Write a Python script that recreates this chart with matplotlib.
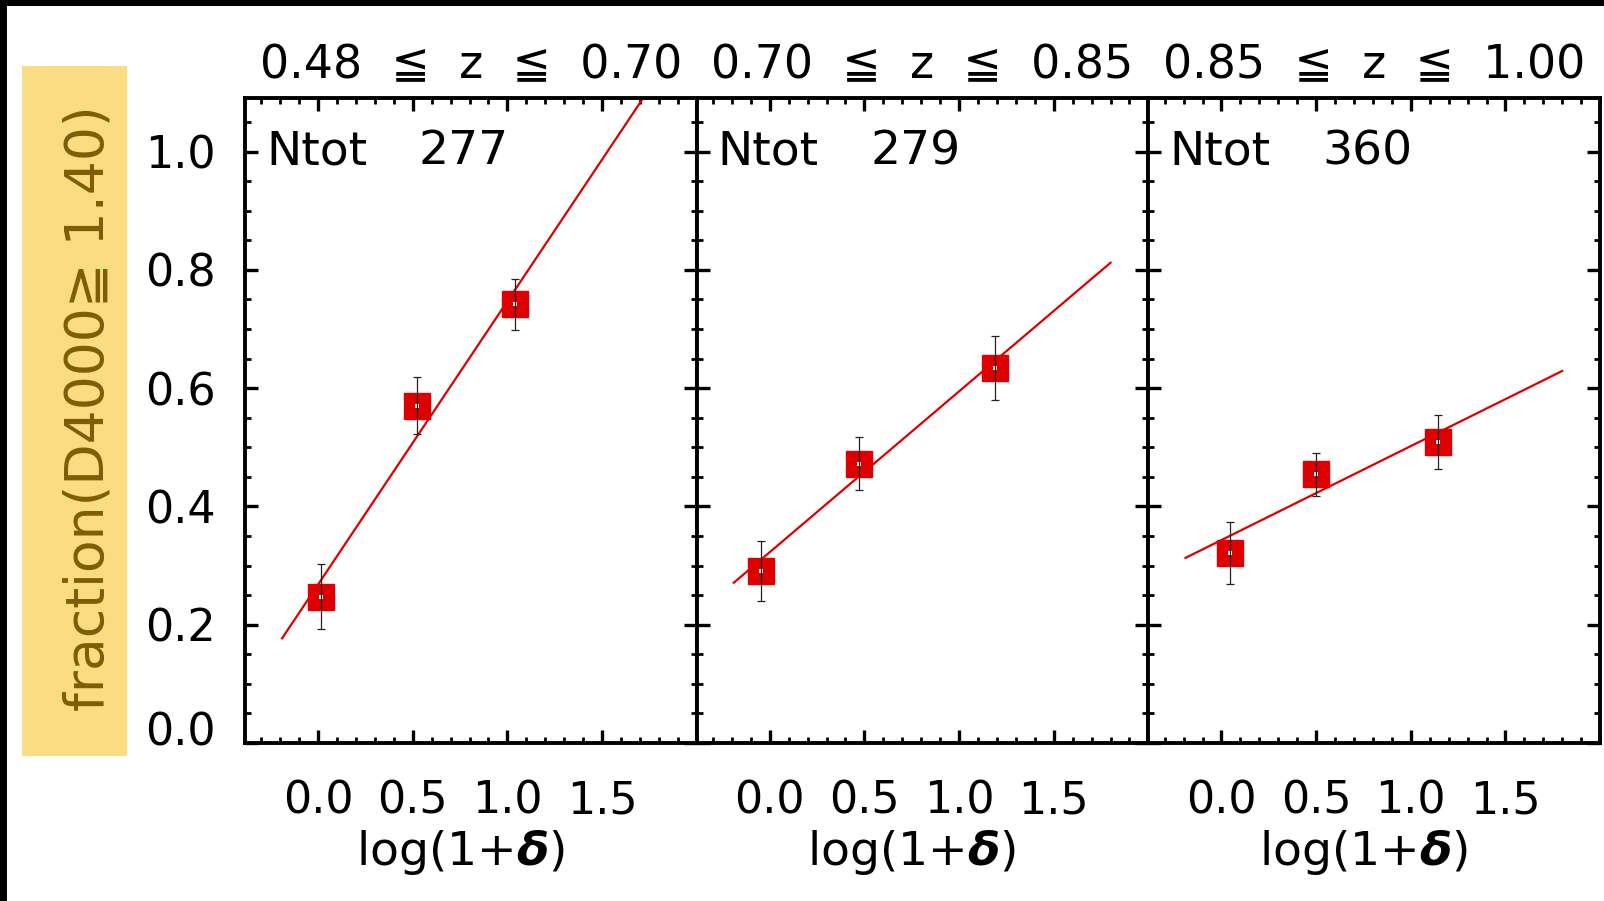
import matplotlib
matplotlib.use('Agg')
from matplotlib import pyplot as plt
from matplotlib.patches import Rectangle
from matplotlib.ticker import MultipleLocator
from matplotlib.transforms import ScaledTranslation

plt.rcParams['font.family'] = ['DejaVu Sans']

# values
z_titles = ['0.48  ≦  z  ≦  0.70', '0.70  ≦  z  ≦  0.85', '0.85  ≦  z  ≦  1.00']
ntot = [277, 279, 360]
log_delta = [[0.016, 0.525, 1.039], [-0.044, 0.472, 1.189], [0.046, 0.500, 1.145]]
fraction = [[0.247, 0.570, 0.742], [0.291, 0.472, 0.634], [0.321, 0.454, 0.509]]
fraction_err = [[0.055, 0.048, 0.043], [0.051, 0.045, 0.054], [0.052, 0.037, 0.046]]
fit_x = [-0.19, 1.80]
fit_y = [[0.177, 1.130], [0.271, 0.812], [0.313, 0.629]]
x_ticks = [0.0, 0.5, 1.0, 1.5]
y_ticks = [0.0, 0.2, 0.4, 0.6, 0.8, 1.0]

W, H = 1604, 901
RED = '#de0000'

fig = plt.figure(figsize=(W / 100, H / 100), dpi=100)
fig.patch.set_facecolor('white')

# yellow box behind the y label, black strips at the edges
fig.add_artist(Rectangle((22 / W, 1 - 756 / H), 105 / W, 690 / H, transform=fig.transFigure,
                         facecolor='#fadc82', edgecolor='none', zorder=0))
fig.add_artist(Rectangle((0, 1 - 6 / H), 1, 6 / H, transform=fig.transFigure,
                         facecolor='black', edgecolor='none'))
fig.add_artist(Rectangle((0, 0), 7 / W, 1, transform=fig.transFigure,
                         facecolor='black', edgecolor='none'))
fig.text(89 / W, 1 - 408 / H, 'fraction(D4000≧ 1.40)', rotation=90, ha='center', va='center',
         fontsize=38.5, color='#7b5e05')

panel_w = 451.7
for i in range(3):
    ax = fig.add_axes([(245 + i * panel_w) / W, 1 - 743 / H, panel_w / W, 645 / H])
    ax.set_xlim(-0.386, 2.0)
    ax.set_ylim(0, 1.0905)

    ax.plot(fit_x, fit_y[i], color=RED, lw=1.6, zorder=2)
    ax.plot(log_delta[i], fraction[i], 's', color=RED, ms=19, mec=RED, zorder=3)
    ax.plot(log_delta[i], fraction[i], 's', color='white', ms=2.5, mew=0, zorder=4)
    ax.errorbar(log_delta[i], fraction[i], yerr=fraction_err[i], fmt='none', ecolor='#222222',
                elinewidth=0.9, capsize=3, capthick=0.9, zorder=5)

    ax.set_xticks(x_ticks)
    ax.set_xticklabels(['%.1f' % v for v in x_ticks])
    ax.set_yticks(y_ticks)
    ax.set_yticklabels(['%.1f' % v for v in y_ticks])
    ax.xaxis.set_minor_locator(MultipleLocator(0.1))
    ax.yaxis.set_minor_locator(MultipleLocator(0.05))
    ax.tick_params(which='both', direction='in', top=True, right=True, color='black')
    ax.tick_params(which='major', length=9.5, width=2.4)
    ax.tick_params(which='minor', length=4.5, width=2.0)
    ax.tick_params(axis='x', which='major', pad=26, labelsize=32)
    ax.tick_params(axis='y', which='major', pad=21, labelsize=32, labelleft=(i == 0))
    for sp in ax.spines.values():
        sp.set_linewidth(2.8)
    if i == 0:
        # the 0.0 label sits a little above its tick
        lab = ax.get_yticklabels()[0]
        lab.set_transform(lab.get_transform() + ScaledTranslation(0, 0.14, fig.dpi_scale_trans))

    ax.text(0.5, 1.031, z_titles[i], transform=ax.transAxes, ha='center', va='baseline',
            fontsize=33)
    ax.text(0.0465, 0.897, 'Ntot', transform=ax.transAxes, ha='left', va='baseline', fontsize=34)
    ax.text(0.385, 0.897, str(ntot[i]), transform=ax.transAxes, ha='left', va='baseline',
            fontsize=34)
    ax.text(0.75, -0.169, r'log(1+$\boldsymbol{\delta}$)', transform=ax.get_xaxis_transform(),
            ha='center', va='center', fontsize=34)

fig.savefig('out.png', dpi=100, facecolor='white')
